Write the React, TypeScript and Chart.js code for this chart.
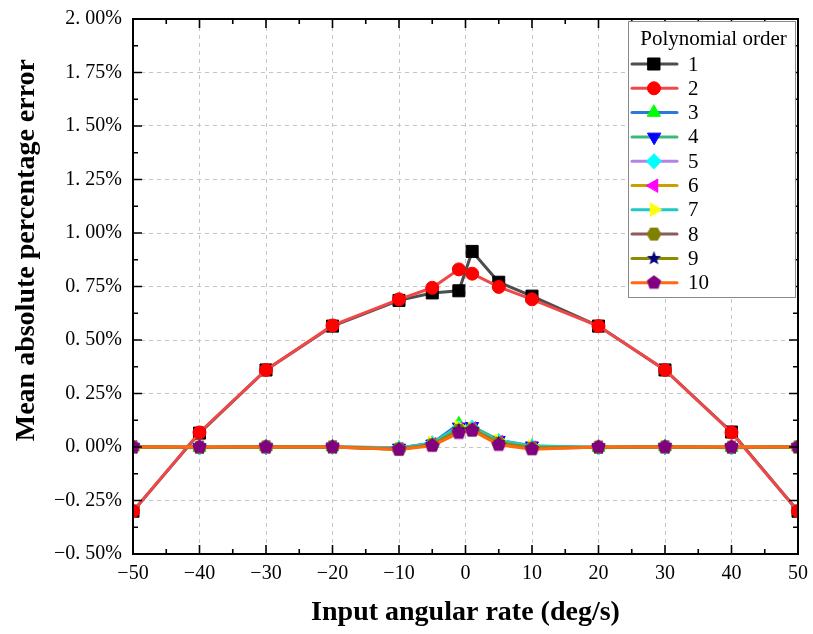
import React, { useEffect, useRef } from "react";
import { Chart, registerables } from "chart.js";
import { drawPoint } from "chart.js/helpers";

Chart.register(...registerables);

// Input angular rate (deg/s)
const RATES = [-50, -40, -30, -20, -10, -5, -1, 1, 5, 10, 20, 30, 40, 50];

// Mean absolute percentage error (%) for each polynomial order
const ORDER_1 = [-0.3, 0.065, 0.36, 0.565, 0.685, 0.72, 0.73, 0.914, 0.77, 0.705, 0.565, 0.36, 0.07, -0.3];
const ORDER_2 = [-0.3, 0.068, 0.36, 0.568, 0.69, 0.744, 0.83, 0.81, 0.748, 0.69, 0.565, 0.36, 0.068, -0.3];
const ORDER_3 = [0.0, -0.003, 0.001, 0.0, -0.005, 0.018, 0.108, 0.088, 0.028, 0.004, -0.003, 0.001, -0.003, 0.0];
const ORDER_4 = [0.0, -0.002, 0.0, 0.001, -0.004, 0.015, 0.094, 0.097, 0.032, 0.006, -0.002, 0.0, -0.002, 0.0];
const ORDER_5 = [0.0, -0.002, 0.0, 0.0, -0.006, 0.016, 0.09, 0.09, 0.026, 0.002, -0.002, 0.0, -0.002, 0.0];
const ORDER_6 = [0.0, -0.001, 0.0, 0.0, -0.008, 0.014, 0.085, 0.088, 0.024, -0.002, -0.001, 0.0, -0.001, 0.0];
const ORDER_7 = [0.0, -0.001, 0.0, 0.0, -0.007, 0.02, 0.095, 0.086, 0.03, 0.004, -0.001, 0.0, -0.001, 0.0];
const ORDER_8 = [0.0, -0.001, 0.0, 0.0, -0.01, 0.01, 0.078, 0.08, 0.018, -0.006, -0.001, 0.0, -0.001, 0.0];
const ORDER_9 = [0.0, -0.001, 0.0, 0.0, -0.01, 0.01, 0.08, 0.082, 0.02, -0.005, -0.001, 0.0, -0.001, 0.0];
const ORDER_10 = [0.0, 0.0, 0.0, 0.0, -0.012, 0.006, 0.066, 0.077, 0.01, -0.01, 0.0, 0.0, 0.0, 0.0];

const SERIES = [ORDER_1, ORDER_2, ORDER_3, ORDER_4, ORDER_5, ORDER_6, ORDER_7, ORDER_8, ORDER_9, ORDER_10];
const ORDER_LABELS = ["1", "2", "3", "4", "5", "6", "7", "8", "9", "10"];
const LEGEND_TITLE = "Polynomial order";

const X_TICKS = [-50, -40, -30, -20, -10, 0, 10, 20, 30, 40, 50];
const Y_TICKS = [-0.5, -0.25, 0, 0.25, 0.5, 0.75, 1.0, 1.25, 1.5, 1.75, 2.0];

const X_TITLE = "Input angular rate (deg/s)";
const Y_TITLE = "Mean absolute percentage error";

const LINE_COLORS = [
  "#4d4d4d", "#f04848", "#2a7ad8", "#3cb878", "#b482e6",
  "#c8a000", "#20c8c8", "#8c5a5a", "#8c8c00", "#ff6a10",
];
const MARKER_COLORS = [
  "#000000", "#ff0000", "#00ff00", "#0000ff", "#00ffff",
  "#ff00ff", "#ffff00", "#808000", "#000080", "#800080",
];

const SERIF = "'Liberation Serif', 'Times New Roman', serif";

const minus = (s: string) => s.replace("-", "\u2212");

// Filled polygon / star marker drawn on a small canvas
function shapeImage(kind: "hexagon" | "pentagon" | "star", color: string, r: number) {
  const size = Math.ceil(r * 2 + 2);
  const c = document.createElement("canvas");
  c.width = size;
  c.height = size;
  const ctx = c.getContext("2d")!;
  const cx = size / 2;
  const cy = size / 2;
  ctx.fillStyle = color;
  ctx.beginPath();
  if (kind === "star") {
    for (let i = 0; i < 10; i++) {
      const rr = i % 2 === 0 ? r : r * 0.42;
      const a = -Math.PI / 2 + (i * Math.PI) / 5;
      const px = cx + rr * Math.cos(a);
      const py = cy + rr * Math.sin(a);
      if (i === 0) ctx.moveTo(px, py);
      else ctx.lineTo(px, py);
    }
  } else {
    const n = kind === "hexagon" ? 6 : 5;
    const start = kind === "hexagon" ? 0 : -Math.PI / 2;
    for (let i = 0; i < n; i++) {
      const a = start + (i * 2 * Math.PI) / n;
      const px = cx + r * Math.cos(a);
      const py = cy + r * Math.sin(a);
      if (i === 0) ctx.moveTo(px, py);
      else ctx.lineTo(px, py);
    }
  }
  ctx.closePath();
  ctx.fill();
  return c;
}

function markerStyles() {
  return [
    { pointStyle: "rect" as any, radius: 8.5, rotation: 0 },
    { pointStyle: "circle" as any, radius: 6.5, rotation: 0 },
    { pointStyle: "triangle" as any, radius: 7.5, rotation: 0 },
    { pointStyle: "triangle" as any, radius: 7.5, rotation: 180 },
    { pointStyle: "rectRot" as any, radius: 7.5, rotation: 0 },
    { pointStyle: "triangle" as any, radius: 7.5, rotation: 270 },
    { pointStyle: "triangle" as any, radius: 7.5, rotation: 90 },
    { pointStyle: shapeImage("hexagon", MARKER_COLORS[7], 7.5) as any, radius: 7.5, rotation: 0 },
    { pointStyle: shapeImage("star", MARKER_COLORS[8], 7.5) as any, radius: 7.5, rotation: 0 },
    { pointStyle: shapeImage("pentagon", MARKER_COLORS[9], 7.5) as any, radius: 7.5, rotation: 0 },
  ];
}

// Closed frame with inward major and minor ticks on all four sides, plus the y title
const framePlugin = {
  id: "frameTicks",
  afterDatasetsDraw(chart: any) {
    const { ctx, chartArea: a, scales } = chart;
    const xs = scales.x;
    const ys = scales.y;
    ctx.save();
    ctx.strokeStyle = "#000";
    ctx.lineWidth = 1.6;
    const major = 9;
    const minor = 5;
    ctx.beginPath();
    for (let i = 0; i < X_TICKS.length; i++) {
      const px = xs.getPixelForValue(X_TICKS[i]);
      ctx.moveTo(px, a.bottom); ctx.lineTo(px, a.bottom - major);
      ctx.moveTo(px, a.top); ctx.lineTo(px, a.top + major);
      if (i < X_TICKS.length - 1) {
        const mx = xs.getPixelForValue((X_TICKS[i] + X_TICKS[i + 1]) / 2);
        ctx.moveTo(mx, a.bottom); ctx.lineTo(mx, a.bottom - minor);
        ctx.moveTo(mx, a.top); ctx.lineTo(mx, a.top + minor);
      }
    }
    for (let i = 0; i < Y_TICKS.length; i++) {
      const py = ys.getPixelForValue(Y_TICKS[i]);
      ctx.moveTo(a.left, py); ctx.lineTo(a.left + major, py);
      ctx.moveTo(a.right, py); ctx.lineTo(a.right - major, py);
      if (i < Y_TICKS.length - 1) {
        const my = ys.getPixelForValue((Y_TICKS[i] + Y_TICKS[i + 1]) / 2);
        ctx.moveTo(a.left, my); ctx.lineTo(a.left + minor, my);
        ctx.moveTo(a.right, my); ctx.lineTo(a.right - minor, my);
      }
    }
    ctx.stroke();
    ctx.lineWidth = 2;
    ctx.strokeRect(a.left, a.top, a.right - a.left, a.bottom - a.top);

    // y-axis title, centred a little above the middle of the axis
    ctx.translate(27, ys.getPixelForValue(0.92));
    ctx.rotate(-Math.PI / 2);
    ctx.fillStyle = "#000";
    ctx.font = `bold 28px ${SERIF}`;
    ctx.textAlign = "center";
    ctx.textBaseline = "middle";
    ctx.fillText(Y_TITLE, 0, 0);
    ctx.restore();
  },
};

// Boxed legend: line sample with its marker, titled
const legendPlugin = {
  id: "orderLegend",
  afterDraw(chart: any) {
    const { ctx, chartArea: a } = chart;
    const left = a.right - 170;
    const top = a.top + 2;
    const w = 167;
    const h = 276;
    ctx.save();
    ctx.fillStyle = "#fff";
    ctx.fillRect(left, top, w, h);
    ctx.strokeStyle = "#8a8a8a";
    ctx.lineWidth = 1;
    ctx.strokeRect(left + 0.5, top + 0.5, w, h);

    ctx.fillStyle = "#000";
    ctx.font = `21px ${SERIF}`;
    ctx.textAlign = "center";
    ctx.textBaseline = "middle";
    ctx.fillText(LEGEND_TITLE, left + w / 2 + 2, top + 18);

    chart.data.datasets.forEach((ds: any, i: number) => {
      const y = top + 43 + i * 24.3;
      ctx.strokeStyle = ds.borderColor;
      ctx.lineWidth = 3;
      ctx.lineCap = "round";
      ctx.beginPath();
      ctx.moveTo(left + 4, y);
      ctx.lineTo(left + 49, y);
      ctx.stroke();
      ctx.fillStyle = ds.pointBackgroundColor;
      ctx.strokeStyle = ds.pointBorderColor;
      ctx.lineWidth = 1;
      drawPoint(ctx, {
        pointStyle: ds.pointStyle,
        rotation: ds.pointRotation,
        radius: ds.pointRadius,
        borderWidth: 1,
      } as any, left + 26, y);
      ctx.fillStyle = "#000";
      ctx.font = `21px ${SERIF}`;
      ctx.textAlign = "left";
      ctx.fillText(ORDER_LABELS[i], left + 60, y + 1);
    });
    ctx.restore();
  },
};

export default function App() {
  const ref = useRef<HTMLCanvasElement>(null);

  useEffect(() => {
    if (!ref.current) return;
    const markers = markerStyles();
    const datasets = SERIES.map((values, i) => ({
      label: ORDER_LABELS[i],
      data: RATES.map((x, j) => ({ x, y: values[j] })),
      borderColor: LINE_COLORS[i],
      backgroundColor: LINE_COLORS[i],
      borderWidth: 3,
      pointStyle: markers[i].pointStyle,
      pointRadius: markers[i].radius,
      pointRotation: markers[i].rotation,
      pointBackgroundColor: MARKER_COLORS[i],
      pointBorderColor: MARKER_COLORS[i],
      pointBorderWidth: 1,
      tension: 0,
      clip: 0,
      order: -i,
    }));

    const chart = new Chart(ref.current, {
      type: "line",
      data: { datasets },
      options: {
        responsive: false,
        animation: false,
        events: [],
        layout: { padding: { top: 19, right: 15, left: 0, bottom: 0 } },
        plugins: {
          legend: { display: false },
          tooltip: { enabled: false },
        },
        scales: {
          x: {
            type: "linear",
            min: -50,
            max: 50,
            afterBuildTicks: (s: any) => {
              s.ticks = X_TICKS.map((v) => ({ value: v }));
            },
            afterFit: (s: any) => {
              s.height = 80;
              s.paddingLeft = 0;
              s.paddingRight = 0;
            },
            ticks: {
              color: "#000",
              padding: 8,
              maxRotation: 0,
              autoSkip: false,
              font: { family: SERIF, size: 20 },
              callback: (v: any) => minus(String(v)),
            },
            grid: { color: "#c4c4c4", lineWidth: 1, drawTicks: false },
            border: { display: false, dash: [4, 4] },
            title: {
              display: true,
              text: X_TITLE,
              color: "#000",
              font: { family: SERIF, size: 28, weight: "bold" },
              padding: { top: 0, bottom: 4 },
            },
          },
          y: {
            type: "linear",
            min: -0.5,
            max: 2,
            afterBuildTicks: (s: any) => {
              s.ticks = Y_TICKS.map((v) => ({ value: v }));
            },
            afterFit: (s: any) => {
              s.width = 133;
              s.paddingTop = 0;
              s.paddingBottom = 0;
            },
            ticks: {
              color: "#000",
              padding: 11,
              autoSkip: false,
              font: { family: SERIF, size: 20 },
              callback: (v: any) => {
                const n = Number(v);
                const s = Math.abs(n).toFixed(2).replace(".", ". ") + "%";
                return n < 0 ? "\u2212" + s : s;
              },
            },
            grid: { color: "#c4c4c4", lineWidth: 1, drawTicks: false },
            border: { display: false, dash: [4, 4] },
            title: { display: false },
          },
        },
      },
      plugins: [framePlugin, legendPlugin],
    });
    return () => chart.destroy();
  }, []);

  return (
    <div style={{ position: "absolute", left: 0, top: 0, width: 813, height: 634, background: "#fff" }}>
      <canvas ref={ref} width={813} height={634} />
    </div>
  );
}
